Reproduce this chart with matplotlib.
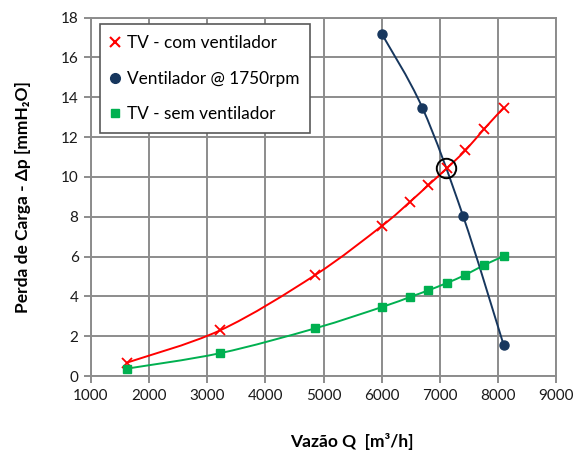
import numpy as np
import matplotlib
matplotlib.use('Agg')
import matplotlib.pyplot as plt
from matplotlib.path import Path
from matplotlib.patches import PathPatch
from matplotlib.lines import Line2D

plt.rcParams['font.family'] = ['Lato', 'DejaVu Sans']

# curva do sistema (TV) e curva do ventilador
q_tv = [1615, 3225, 4850, 6000, 6480, 6800, 7120, 7440, 7760, 8100]
dp_com = [0.67, 2.3, 5.06, 7.53, 8.73, 9.58, 10.43, 11.33, 12.4, 13.48]
dp_sem = [0.37, 1.15, 2.39, 3.46, 3.96, 4.3, 4.67, 5.08, 5.57, 6.02]
q_vent = [6000, 6700, 7400, 8100]
dp_vent = [17.2, 13.48, 8.05, 1.55]
q_op = [7110]
dp_op = [10.45]

RED = '#FF0000'
GREEN = '#00B050'
NAVY = '#17375E'
GRID = '#8C8C8C'


def smooth_path(xs, ys):
    # linha suavizada tipo Excel (Catmull-Rom em Bezier)
    p = np.column_stack([xs, ys]).astype(float)
    verts = [p[0]]
    codes = [Path.MOVETO]
    n = len(p)
    for i in range(n - 1):
        p0 = p[i - 1] if i > 0 else p[i]
        p3 = p[i + 2] if i + 2 < n else p[i + 1]
        c1 = p[i] + (p[i + 1] - p0) / 6
        c2 = p[i + 1] - (p3 - p[i]) / 6
        verts += [c1, c2, p[i + 1]]
        codes += [Path.CURVE4] * 3
    return Path(verts, codes)


fig = plt.figure(figsize=(5.76, 4.5), dpi=100)
ax = fig.add_axes([0.158, 0.1644, 0.8073, 0.7963])

for xs, ys, c in [(q_tv, dp_com, RED), (q_tv, dp_sem, GREEN), (q_vent, dp_vent, NAVY)]:
    ax.add_patch(PathPatch(smooth_path(xs, ys), facecolor='none', edgecolor=c, lw=1.4, zorder=3))

ax.plot(q_tv, dp_com, ls='none', marker='x', ms=7, mew=1.3, color=RED, zorder=4)
ax.plot(q_vent, dp_vent, ls='none', marker='o', ms=6.5, color=NAVY, zorder=4)
ax.plot(q_tv, dp_sem, ls='none', marker='s', ms=6, color=GREEN, zorder=4)
ax.plot(q_op, dp_op, ls='none', marker='o', ms=14, mfc='none', mec='black', mew=1.4, zorder=5)

ax.set_xlim(1000, 9000)
ax.set_ylim(0, 18)
ax.set_xticks(range(1000, 9001, 1000))
ax.set_yticks(range(0, 19, 2))
ax.grid(True, color=GRID, lw=1.4)
ax.set_axisbelow(True)
for s in ax.spines.values():
    s.set_color(GRID)
    s.set_linewidth(1.4)
ax.tick_params(direction='out', length=5, width=1.4, color=GRID, labelsize=11,
               labelcolor='#1a1a1a', pad=4)

ax.set_xlabel('Vazão Q  [m³/h]', fontsize=12.5, fontweight='bold')
ax.xaxis.set_label_coords(0.561, -0.158)
ax.set_ylabel('Perda de Carga - Δp [mmH₂O]', fontsize=12.5, fontweight='bold')
ax.yaxis.set_label_coords(-0.128, 0.5)

handles = [
    Line2D([], [], ls='none', marker='x', ms=7, mew=1.5, color=RED),
    Line2D([], [], ls='none', marker='o', ms=7, color=NAVY),
    Line2D([], [], ls='none', marker='s', ms=6, color=GREEN),
]
labels = ['TV - com ventilador', 'Ventilador @ 1750rpm', 'TV - sem ventilador']
leg = ax.legend(handles, labels, loc='upper left', bbox_to_anchor=(0.019, 0.981),
                fontsize=12.4, frameon=True, fancybox=False, framealpha=1,
                edgecolor='#595959', labelspacing=1.15, handlelength=0.6,
                handletextpad=0.4, borderpad=0.6, borderaxespad=0)
leg.get_frame().set_linewidth(1.2)

fig.savefig('out.png', dpi=100)
